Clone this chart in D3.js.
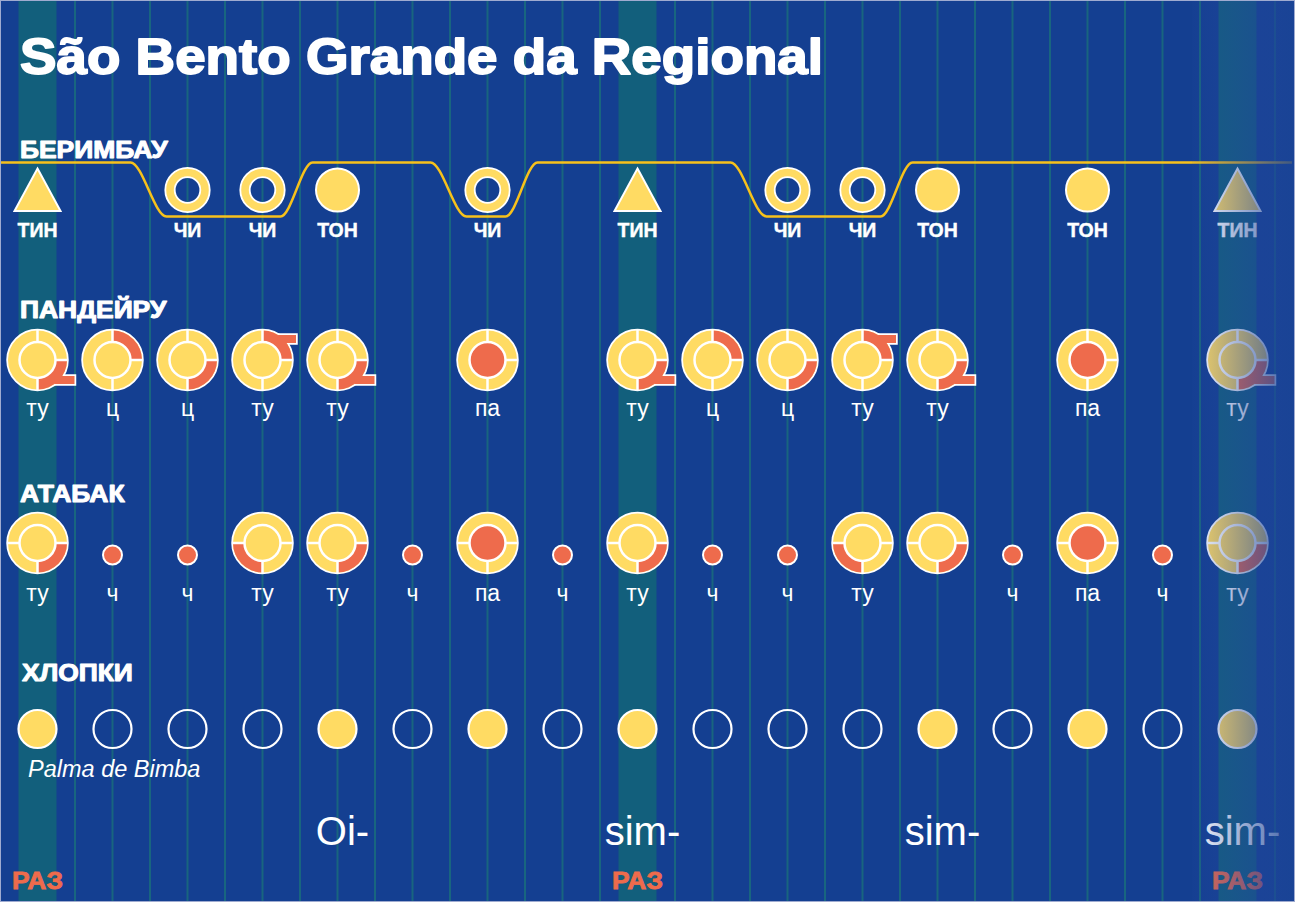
<!DOCTYPE html>
<html>
<head>
<meta charset="utf-8">
<script src="https://cdn.jsdelivr.net/npm/d3@7"></script>
<style>
    body { margin: 0; background: #143f91; }
    svg { display: block; }
</style>
</head>
<body>
<div id="chart"></div>
<script>
// beats 0..16 (16 = repeat of the first beat, faded)
const berimbauBeats = [0, 2, 3, 4, 6, 8, 10, 11, 12, 14, 16];
const berimbauTypes = ["tin", "chi", "chi", "ton", "chi", "tin", "chi", "chi", "ton", "ton", "tin"];
const berimbauLabels = ["ТИН", "ЧИ", "ЧИ", "ТОН", "ЧИ", "ТИН", "ЧИ", "ЧИ", "ТОН", "ТОН", "ТИН"];

const pandeiroBeats = [0, 1, 2, 3, 4, 6, 8, 9, 10, 11, 12, 14, 16];
const pandeiroHits = ["br", "tr", "br", "tr", "br", "center", "br", "tr", "br", "tr", "br", "center", "br"];
const pandeiroTails = ["bottom", null, null, "top", "bottom", null, "bottom", null, null, "top", "bottom", null, "bottom"];
const pandeiroLabels = ["ту", "ц", "ц", "ту", "ту", "па", "ту", "ц", "ц", "ту", "ту", "па", "ту"];

const atabaqueBeats = [0, 1, 2, 3, 4, 5, 6, 7, 8, 9, 10, 11, 12, 13, 14, 15, 16];
const atabaqueHits = ["br", "dot", "dot", "bl", "br", "dot", "center", "dot", "br", "dot", "dot", "bl", "br", "dot", "center", "dot", "br"];
const atabaqueLabels = ["ту", "ч", "ч", "ту", "ту", "ч", "па", "ч", "ту", "ч", "ч", "ту", "", "ч", "па", "ч", "ту"];

const clapBeats = [0, 1, 2, 3, 4, 5, 6, 7, 8, 9, 10, 11, 12, 13, 14, 15, 16];
const clapFilled = [1, 0, 0, 0, 1, 0, 1, 0, 1, 0, 0, 0, 1, 0, 1, 0, 1];

const lyricBeats = [4, 8, 12, 16];
const lyricWords = ["Oi-", "sim-", "sim-", "sim-"];

const razBeats = [0, 8, 16];

const sectionNames = ["БЕРИМБАУ", "ПАНДЕЙРУ", "АТАБАК", "ХЛОПКИ"];
const title = "São Bento Grande da Regional";

const W = 1295, H = 902;
const BG = "#143f91", TEAL = "#125f7c", GRID = "#18657f";
const YEL = "#ffdb63", RED = "#ee6b4c", GOLD = "#f7c11b";
const FONT = "'Liberation Sans', Arial, sans-serif";

const svg = d3
    .select("#chart")
    .append("svg")
    .attr("width", W)
    .attr("height", H);

const x = d3.scaleLinear().domain([0, 16]).range([37.5, 1237.5]);

svg.append("rect").attr("width", W).attr("height", H).attr("fill", BG);

// grid lines every half beat
svg.selectAll(".grid")
    .data(d3.range(-0.5, 17, 0.5))
    .enter()
    .append("line")
    .attr("x1", (d) => x(d))
    .attr("x2", (d) => x(d))
    .attr("y1", 0)
    .attr("y2", H)
    .attr("stroke", GRID)
    .attr("stroke-width", 2);

// downbeat bands
svg.selectAll(".band")
    .data(razBeats)
    .enter()
    .append("rect")
    .attr("x", (d) => x(d) - 19)
    .attr("y", 0)
    .attr("width", 38)
    .attr("height", H)
    .attr("fill", TEAL);

// title
svg.append("text")
    .attr("x", 20)
    .attr("y", 74)
    .attr("textLength", 803)
    .attr("lengthAdjust", "spacingAndGlyphs")
    .attr("font-family", FONT)
    .attr("font-weight", "bold")
    .attr("font-size", 50)
    .attr("fill", "#fff")
    .attr("stroke", "#fff")
    .attr("stroke-width", 1.8)
    .attr("stroke-linejoin", "round")
    .text(title);

// section headings
const headY = [158, 318, 502, 681];
svg.selectAll(".head")
    .data(sectionNames)
    .enter()
    .append("text")
    .attr("transform", (d, i) => `translate(${i === 3 ? 22 : 20},${headY[i]}) scale(1.15,1)`)
    .attr("font-family", FONT)
    .attr("font-weight", "bold")
    .attr("font-size", 23)
    .attr("fill", "#fff")
    .attr("stroke", "#fff")
    .attr("stroke-width", 1)
    .attr("stroke-linejoin", "round")
    .text((d) => d);

// ---- berimbau ----
const hi = 162.5, lo = 216.5, bY = 190;
const chiBeats = berimbauBeats.filter((b, i) => berimbauTypes[i] === "chi");
const groups = [];
chiBeats.forEach((b) => {
    const last = groups[groups.length - 1];
    if (last && b - last[last.length - 1] === 1) last.push(b);
    else groups.push([b]);
});
const pts = [[0, hi]];
groups.forEach((g) => {
    pts.push([x(g[0]) - 57, hi], [x(g[0]) - 21, lo], [x(g[g.length - 1]) + 18, lo], [x(g[g.length - 1]) + 50, hi]);
});
pts.push([1292, hi]);

svg.append("path")
    .attr("d", d3.line().curve(d3.curveMonotoneX)(pts))
    .attr("fill", "none")
    .attr("stroke", GOLD)
    .attr("stroke-width", 2.5);

const bData = berimbauBeats.map((b, i) => ({ beat: b, type: berimbauTypes[i], label: berimbauLabels[i] }));
const bG = svg.selectAll(".berimbau")
    .data(bData)
    .enter()
    .append("g")
    .attr("transform", (d) => `translate(${x(d.beat)},${bY})`);

bG.each(function (d) {
    const g = d3.select(this);
    if (d.type === "tin") {
        g.append("path")
            .attr("d", "M0,-21.5L23,21L-23,21Z")
            .attr("fill", YEL)
            .attr("stroke", "#fff")
            .attr("stroke-width", 2)
            .attr("stroke-linejoin", "miter");
    } else if (d.type === "ton") {
        g.append("circle").attr("r", 21.5).attr("fill", YEL).attr("stroke", "#fff").attr("stroke-width", 2);
    } else {
        g.append("circle").attr("r", 17.5).attr("fill", "none").attr("stroke", YEL).attr("stroke-width", 9.5);
        g.append("circle").attr("r", 22.2).attr("fill", "none").attr("stroke", "#fff").attr("stroke-width", 1.8);
        g.append("circle").attr("r", 12.8).attr("fill", "none").attr("stroke", "#fff").attr("stroke-width", 1.8);
    }
    g.append("text")
        .attr("y", 47)
        .attr("text-anchor", "middle")
        .attr("font-family", FONT)
        .attr("font-weight", "bold")
        .attr("font-size", 19.5)
        .attr("fill", "#fff")
        .attr("stroke", "#fff")
        .attr("stroke-width", 0.4)
        .text(d.label);
});

// ---- drum glyph ----
const R = 29.5, r = 18;
const quad = { tr: [0, Math.PI / 2], br: [Math.PI / 2, Math.PI], bl: [Math.PI, Math.PI * 1.5] };
const tailRect = { bottom: [17, 16, 20, 8], top: [15, -25, 18.5, 8] };

function drawDrum(g, hit, seps, tail) {
    g.append("circle").attr("r", R).attr("fill", "none").attr("stroke", "#fff").attr("stroke-width", 3.5);
    if (tail) {
        const t = tailRect[tail];
        g.append("rect").attr("x", t[0]).attr("y", t[1]).attr("width", t[2]).attr("height", t[3])
            .attr("fill", "none").attr("stroke", "#fff").attr("stroke-width", 3.5);
    }
    g.append("circle").attr("r", R).attr("fill", YEL);
    if (quad[hit]) {
        g.append("path")
            .attr("d", d3.arc()({ innerRadius: r, outerRadius: R, startAngle: quad[hit][0], endAngle: quad[hit][1] }))
            .attr("fill", RED);
    }
    if (tail) {
        const t = tailRect[tail];
        g.append("rect").attr("x", t[0]).attr("y", t[1]).attr("width", t[2]).attr("height", t[3]).attr("fill", RED);
    }
    g.append("circle")
        .attr("r", r)
        .attr("fill", hit === "center" ? RED : YEL)
        .attr("stroke", "#fff")
        .attr("stroke-width", 2.5);
    seps.forEach((a) => {
        g.append("line")
            .attr("x1", r * Math.sin(a))
            .attr("y1", -r * Math.cos(a))
            .attr("x2", (R + 1) * Math.sin(a))
            .attr("y2", -(R + 1) * Math.cos(a))
            .attr("stroke", "#fff")
            .attr("stroke-width", 2.5);
    });
}

const labelFont = (sel) =>
    sel.attr("text-anchor", "middle")
        .attr("font-family", FONT)
        .attr("font-size", 23)
        .attr("fill", "#fff");

// ---- pandeiro ----
const pY = 360;
const pData = pandeiroBeats.map((b, i) => ({ beat: b, hit: pandeiroHits[i], tail: pandeiroTails[i], label: pandeiroLabels[i] }));
svg.selectAll(".pandeiro")
    .data(pData)
    .enter()
    .append("g")
    .attr("transform", (d) => `translate(${x(d.beat)},${pY})`)
    .each(function (d) {
        const g = d3.select(this);
        drawDrum(g, d.hit, [0, Math.PI / 2, Math.PI], d.tail);
        g.append("text").attr("y", 56).call(labelFont).text(d.label);
    });

// ---- atabaque ----
const aY = 543;
const aData = atabaqueBeats.map((b, i) => ({ beat: b, hit: atabaqueHits[i], label: atabaqueLabels[i] }));
svg.selectAll(".atabaque")
    .data(aData)
    .enter()
    .append("g")
    .attr("transform", (d) => `translate(${x(d.beat)},${aY})`)
    .each(function (d) {
        const g = d3.select(this);
        if (d.hit === "dot") {
            g.append("circle").attr("cy", 12).attr("r", 9.5).attr("fill", RED).attr("stroke", "#fff").attr("stroke-width", 2);
        } else {
            drawDrum(g, d.hit, [Math.PI / 2, Math.PI, Math.PI * 1.5], null);
        }
        g.append("text").attr("y", 58).call(labelFont).text(d.label);
    });

// ---- claps ----
const cY = 729;
svg.selectAll(".clap")
    .data(clapBeats)
    .enter()
    .append("circle")
    .attr("cx", (d) => x(d))
    .attr("cy", cY)
    .attr("r", 19)
    .attr("fill", (d, i) => (clapFilled[i] ? YEL : "none"))
    .attr("stroke", "#fff")
    .attr("stroke-width", 2.2);

svg.append("text")
    .attr("x", 28)
    .attr("y", 777)
    .attr("font-family", FONT)
    .attr("font-style", "italic")
    .attr("font-size", 23.5)
    .attr("fill", "#fff")
    .text("Palma de Bimba");

// ---- lyrics ----
svg.selectAll(".lyric")
    .data(lyricBeats)
    .enter()
    .append("text")
    .attr("x", (d) => x(d) + 5)
    .attr("y", 845)
    .attr("text-anchor", "middle")
    .attr("font-family", FONT)
    .attr("font-size", 40)
    .attr("fill", "#fff")
    .text((d, i) => lyricWords[i]);

// ---- downbeat marks ----
svg.selectAll(".raz")
    .data(razBeats)
    .enter()
    .append("text")
    .attr("transform", (d) => `translate(${x(d)},889) scale(1.1,1)`)
    .attr("text-anchor", "middle")
    .attr("font-family", FONT)
    .attr("font-weight", "bold")
    .attr("font-size", 24)
    .attr("fill", RED)
    .attr("stroke", RED)
    .attr("stroke-width", 0.8)
    .text("РАЗ");

// fade out the repeated beat on the right
const grad = svg.append("defs")
    .append("linearGradient")
    .attr("id", "fade")
    .attr("gradientUnits", "userSpaceOnUse")
    .attr("x1", 1192).attr("x2", W).attr("y1", 0).attr("y2", 0);
grad.append("stop").attr("offset", 0).attr("stop-color", "#2c4ba6").attr("stop-opacity", 0.05);
grad.append("stop").attr("offset", 1).attr("stop-color", "#1a4496").attr("stop-opacity", 0.85);

svg.append("rect")
    .attr("x", 1192)
    .attr("y", 0)
    .attr("width", W - 1192)
    .attr("height", H)
    .attr("fill", "url(#fade)");

// thin frame
svg.append("rect")
    .attr("x", 0.5).attr("y", 0.5)
    .attr("width", W - 1).attr("height", H - 1)
    .attr("fill", "none")
    .attr("stroke", "#9fabd0")
    .attr("stroke-width", 1);
</script>
</body>
</html>
